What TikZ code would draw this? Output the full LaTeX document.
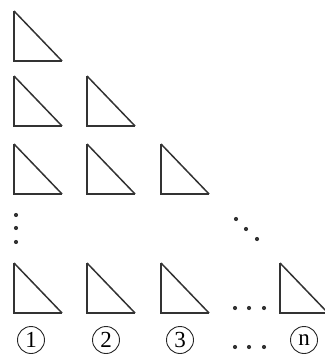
\documentclass[tikz,border=0pt]{standalone}
\usepackage{fontspec}
\setmainfont{Liberation Serif}
\begin{document}
\begin{tikzpicture}[x=1pt,y=-1pt,
  tri/.style={draw=black!80,line width=1.8pt,line join=miter},
  hyp/.style={draw=black!80,line width=1.5pt},
  num/.style={circle,draw=black!85,line width=0.9pt,minimum size=27pt,inner sep=0pt,font=\fontsize{23}{23}\selectfont},
  dot/.style={fill=black!80}]
\useasboundingbox (0,0) rectangle (324,356);
\foreach \x/\y in {14/11, 14/76,87/76, 14/144,87/144,161/144, 14/263,87/263,161/263,280/263}{
  \draw[tri] (\x,\y) -- (\x,\y+50) -- (\x+48,\y+50);
  \draw[hyp] (\x,\y) -- (\x+48,\y+50);
}
\node[num] (c1) at (31,340) {1};
\node[num] (c2) at (106,340) {2};
\node[num] (c3) at (180,340) {3};
\node[num] (cn) at (304,340) {n};
\foreach \x/\y in {16/215,16/228,16/242, 236/219,246/229,257/239, 235/308,249/308,264/308, 235/347,249/347,264/347}{
  \fill[dot] (\x,\y) circle (2.1);
}
\end{tikzpicture}
\end{document}
